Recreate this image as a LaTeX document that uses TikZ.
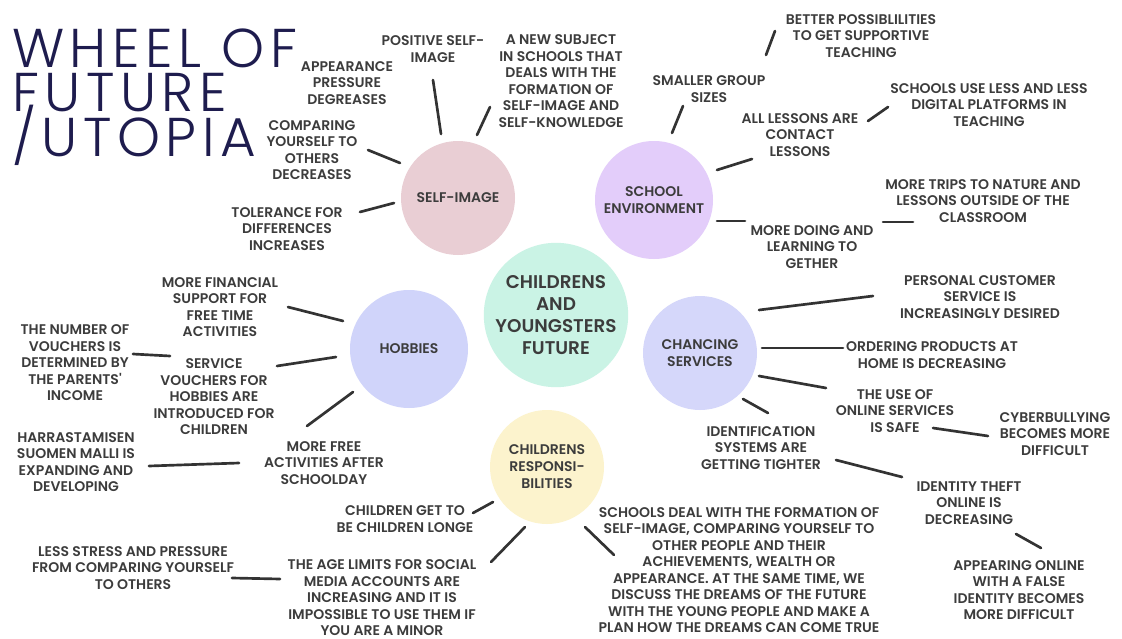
\documentclass[tikz,border=0pt]{standalone}
\usepackage{fontspec}
\newfontfamily\labfont{Poppins SemiBold}
\newfontfamily\titlefont{Poppins Light}[LetterSpace=10]
\definecolor{ink}{HTML}{3C3C3C}
\definecolor{linec}{HTML}{333333}
\definecolor{navy}{HTML}{1E1C4E}
\definecolor{rosec}{HTML}{E9CED4}
\definecolor{lilac}{HTML}{E3CDFA}
\definecolor{mint}{HTML}{CAF3E5}
\definecolor{peri}{HTML}{D5D7FA}
\definecolor{perib}{HTML}{D0D4FA}
\definecolor{cream}{HTML}{FCF3CD}
\tikzset{
  lab/.style={font=\labfont\fontsize{10.5}{12.4}\selectfont, text=ink, align=center, inner sep=0pt},
  bubble/.style={circle, inner sep=0pt, align=center, text=ink,
    font=\labfont\fontsize{10.5}{12.8}\selectfont},
  link/.style={draw=linec, line width=2pt, line cap=round},
  headline/.style={anchor=base west, inner sep=0pt, text=navy,
    text height=29pt, text depth=2pt,
    font=\titlefont\fontsize{41}{33.4}\selectfont},
}
\begin{document}
\begin{tikzpicture}[x=0.75pt, y=-0.75pt]
\fill[white] (0,0) rectangle (1122,639);
\useasboundingbox (0,0) rectangle (1122,639);

% title, one line per node
\node[headline] (title1) at (12,67) {WHEEL OF};
\node[headline] (title2) at (12,111.5) {FUTURE};
\node[headline] (title3) at (12,156) {/UTOPIA};

% theme circles
\node[bubble, fill=rosec, minimum size=85.5pt] (selfimg) at (458,198) {SELF-IMAGE};
\node[bubble, fill=lilac, minimum size=88.5pt] (school) at (654,200) {SCHOOL\\ENVIRONMENT};
\node[bubble, fill=mint, minimum size=108pt, font=\labfont\fontsize{13.8}{16.5}\selectfont] (hub) at (556,315) {CHILDRENS\\AND\\YOUNGSTERS\\FUTURE};
\node[bubble, fill=peri, minimum size=85.5pt] (services) at (700,353) {CHANCING\\SERVICES};
\node[bubble, fill=perib, minimum size=88.5pt] (hobbies) at (409,349) {HOBBIES};
\node[bubble, fill=cream, minimum size=85.5pt] (resp) at (547,467) {CHILDRENS\\RESPONSI-\\BILITIES};

% self-image branch
\node[lab] (appear) at (347,83) {APPEARANCE\\PRESSURE\\DEGREASES};
\node[lab] (possel) at (433,49) {POSITIVE SELF-\\IMAGE};
\node[lab] (newsub) at (561,81) {A NEW SUBJECT\\IN SCHOOLS THAT\\DEALS WITH THE\\FORMATION OF\\SELF-IMAGE AND\\SELF-KNOWLEDGE};
\node[lab] (compar) at (312,150) {COMPARING\\YOURSELF TO\\OTHERS\\DECREASES};
\node[lab] (toler) at (287,229) {TOLERANCE FOR\\DIFFERENCES\\INCREASES};

% school branch
\node[lab] (smaller) at (709,89) {SMALLER GROUP\\SIZES};
\node[lab] (better) at (861,36) {BETTER POSSIBLILITIES\\TO GET SUPPORTIVE\\TEACHING};
\node[lab] (allles) at (800,135) {ALL LESSONS ARE\\CONTACT\\LESSONS};
\node[lab] (schuse) at (989,105) {SCHOOLS USE LESS AND LESS\\DIGITAL PLATFORMS IN\\TEACHING};
\node[lab] (moredo) at (812,247) {MORE DOING AND\\LEARNING TO\\GETHER};
\node[lab] (trips) at (983,201) {MORE TRIPS TO NATURE AND\\LESSONS OUTSIDE OF THE\\CLASSROOM};

% services branch
\node[lab] (personal) at (980,297) {PERSONAL CUSTOMER\\SERVICE IS\\INCREASINGLY DESIRED};
\node[lab] (ordering) at (932,355) {ORDERING PRODUCTS AT\\HOME IS DECREASING};
\node[lab] (useof) at (895,411) {THE USE OF\\ONLINE SERVICES\\IS SAFE};
\node[lab] (cyber) at (1055,434) {CYBERBULLYING\\BECOMES MORE\\DIFFICULT};
\node[lab] (ident) at (761,448) {IDENTIFICATION\\SYSTEMS ARE\\GETTING TIGHTER};
\node[lab] (theft) at (969,503) {IDENTITY THEFT\\ONLINE IS\\DECREASING};
\node[lab] (falseid) at (1019,590) {APPEARING ONLINE\\WITH A FALSE\\IDENTITY BECOMES\\MORE DIFFICULT};

% hobbies branch
\node[lab] (finsup) at (220,307) {MORE FINANCIAL\\SUPPORT FOR\\FREE TIME\\ACTIVITIES};
\node[lab] (vouch) at (214,397) {SERVICE\\VOUCHERS FOR\\HOBBIES ARE\\INTRODUCED FOR\\CHILDREN};
\node[lab] (number) at (75,363) {THE NUMBER OF\\VOUCHERS IS\\DETERMINED BY\\THE PARENTS'\\INCOME};
\node[lab] (morefree) at (324,463) {MORE FREE\\ACTIVITIES AFTER\\SCHOOLDAY};
\node[lab] (harra) at (76,462) {HARRASTAMISEN\\SUOMEN MALLI IS\\EXPANDING AND\\DEVELOPING};

% responsibilities branch
\node[lab] (longe) at (405,519) {CHILDREN GET TO\\BE CHILDREN LONGE};
\node[lab] (agelim) at (382,598) {THE AGE LIMITS FOR SOCIAL\\MEDIA ACCOUNTS ARE\\INCREASING AND IT IS\\IMPOSSIBLE TO USE THEM IF\\YOU ARE A MINOR};
\node[lab] (stress) at (133,568) {LESS STRESS AND PRESSURE\\FROM COMPARING YOURSELF\\TO OTHERS};
\node[lab] (schdeal) at (739,570) {SCHOOLS DEAL WITH THE FORMATION OF\\SELF-IMAGE, COMPARING YOURSELF TO\\OTHER PEOPLE AND THEIR\\ACHIEVEMENTS, WEALTH OR\\APPEARANCE. AT THE SAME TIME, WE\\DISCUSS THE DREAMS OF THE FUTURE\\WITH THE YOUNG PEOPLE AND MAKE A\\PLAN HOW THE DREAMS CAN COME TRUE};

% connector ends
\coordinate (possel-e) at (433,80);   \coordinate (selfimg-a) at (441,134);
\coordinate (newsub-e) at (490,107);  \coordinate (selfimg-b) at (477,135);
\coordinate (compar-e) at (368,150);  \coordinate (selfimg-c) at (400,163);
\coordinate (toler-e) at (360,212);   \coordinate (selfimg-d) at (394,203);

\coordinate (better-e) at (775,31);   \coordinate (smaller-f) at (766,55);
\coordinate (smaller-e) at (683,106); \coordinate (school-a) at (672,133);
\coordinate (school-b) at (717,170);  \coordinate (allles-e) at (752,159);
\coordinate (allles-f) at (868,121);  \coordinate (schuse-e) at (888,107);
\coordinate (school-c) at (717,221);  \coordinate (moredo-e) at (745,221);
\coordinate (moredo-f) at (883,222);  \coordinate (trips-e) at (913,222);

\coordinate (services-a) at (759,310); \coordinate (personal-e) at (873,296);
\coordinate (services-b) at (762,348); \coordinate (ordering-e) at (843,348);
\coordinate (services-c) at (759,376); \coordinate (useof-e) at (826,388);
\coordinate (useof-f) at (933,428);    \coordinate (cyber-e) at (988,436);
\coordinate (services-d) at (743,399); \coordinate (ident-e) at (768,413);
\coordinate (ident-f) at (836,460);    \coordinate (theft-e) at (902,477);
\coordinate (theft-f) at (1016,534);   \coordinate (falseid-e) at (1041,548);

\coordinate (finsup-e) at (288,307);  \coordinate (hobbies-a) at (343,321);
\coordinate (vouch-e) at (277,366);   \coordinate (hobbies-b) at (336,357);
\coordinate (number-e) at (133,354);  \coordinate (vouch-f) at (170,356);
\coordinate (hobbies-c) at (353,392); \coordinate (morefree-e) at (307,426);
\coordinate (harra-e) at (149,466);   \coordinate (morefree-f) at (239,463);

\coordinate (longe-e) at (473,513);   \coordinate (resp-a) at (493,502);
\coordinate (resp-b) at (525,527);    \coordinate (agelim-e) at (491,562);
\coordinate (stress-e) at (232,578);  \coordinate (agelim-f) at (280,579);
\coordinate (resp-c) at (585,527);    \coordinate (schdeal-e) at (614,555);

% connectors
\draw[link] (possel-e) -- (selfimg-a);
\draw[link] (newsub-e) -- (selfimg-b);
\draw[link] (compar-e) -- (selfimg-c);
\draw[link] (toler-e) -- (selfimg-d);

\draw[link] (better-e) -- (smaller-f);
\draw[link] (smaller-e) -- (school-a);
\draw[link] (school-b) -- (allles-e);
\draw[link] (allles-f) -- (schuse-e);
\draw[link] (school-c) -- (moredo-e);
\draw[link] (moredo-f) -- (trips-e);

\draw[link] (services-a) -- (personal-e);
\draw[link] (services-b) -- (ordering-e);
\draw[link] (services-c) -- (useof-e);
\draw[link] (useof-f) -- (cyber-e);
\draw[link] (services-d) -- (ident-e);
\draw[link] (ident-f) -- (theft-e);
\draw[link] (theft-f) -- (falseid-e);

\draw[link] (finsup-e) -- (hobbies-a);
\draw[link] (vouch-e) -- (hobbies-b);
\draw[link] (number-e) -- (vouch-f);
\draw[link] (hobbies-c) -- (morefree-e);
\draw[link] (harra-e) -- (morefree-f);

\draw[link] (longe-e) -- (resp-a);
\draw[link] (resp-b) -- (agelim-e);
\draw[link] (stress-e) -- (agelim-f);
\draw[link] (resp-c) -- (schdeal-e);
\end{tikzpicture}
\end{document}
